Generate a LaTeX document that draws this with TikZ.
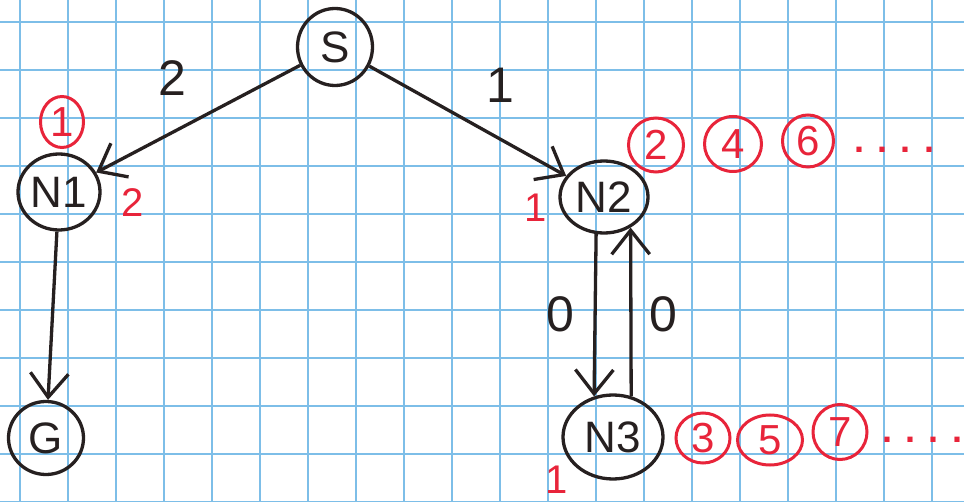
\documentclass[tikz,border=0pt]{standalone}
\usepackage{fontspec}
\setmainfont{Liberation Sans}
\usetikzlibrary{arrows.meta,shapes.geometric}
\definecolor{gridblue}{RGB}{125,190,232}
\definecolor{pen}{RGB}{38,32,32}
\definecolor{redpen}{RGB}{232,36,58}
\tikzset{
  gridline/.style={draw=gridblue, line width=2.6pt},
  state/.style={ellipse, draw=pen, line width=3.3pt, inner sep=0pt,
    text=pen, font=\fontsize{44}{44}\selectfont},
  edge/.style={draw=pen, line width=3.3pt,
    -{Straight Barb[length=24pt,width=38pt]}},
  weight/.style={text=pen, font=\fontsize{50}{50}\selectfont},
  redmark/.style={text=redpen, font=\fontsize{40}{40}\selectfont},
  ring/.style={ellipse, draw=redpen, line width=3pt, inner sep=0pt,
    text=redpen, font=\fontsize{42}{42}\selectfont},
  dots/.style={text=redpen, font=\fontsize{36}{36}\selectfont\bfseries}
}
\begin{document}
\begin{tikzpicture}[x=1pt,y=-1pt]
  \useasboundingbox (0,0) rectangle (964,502);
  \fill[white] (0,0) rectangle (964,502);
  % squared paper
  \foreach \i in {0,...,19}
    \draw[gridline] (20+48*\i,0) -- (20+48*\i,502);
  \foreach \j in {0,...,10}
    \draw[gridline] (0,22+48*\j) -- (964,22+48*\j);

  % graph nodes
  \node[state, minimum width=75pt, minimum height=77pt] (S)  at (335,47)  {S};
  \node[state, minimum width=82pt, minimum height=76pt] (N1) at (59,192)  {N1};
  \node[state, minimum width=75pt, minimum height=73pt] (G)  at (46,438)  {G};
  \node[state, minimum width=88pt, minimum height=72pt] (N2) at (604,197) {N2};
  \node[state, minimum width=100pt, minimum height=84pt] (N3) at (613,437) {N3};

  % edges
  \draw[edge] (S) -- (N1);
  \draw[edge] (S) -- (N2);
  \draw[edge] (N1) -- (G);
  \draw[edge] (N2.258) -- (N3.115);
  \draw[edge] (N3.66) -- (N2.311);

  % edge weights
  \node[weight] (w1) at (172,78)  {2};
  \node[weight] (w2) at (500,85)  {1};
  \node[weight] (w3) at (560,314) {0};
  \node[weight] (w4) at (663,314) {0};

  % red annotations
  \node[ring, minimum width=43pt, minimum height=51pt] (r1) at (62,122) {1};
  \node[redmark] (m1) at (133,203) {2};
  \node[redmark] (m2) at (536,208) {1};
  \node[redmark] (m3) at (557,480) {1};

  \node[ring, minimum width=55pt, minimum height=54pt] (r2) at (656,145) {2};
  \node[ring, minimum width=57pt, minimum height=55pt] (r4) at (733,144) {4};
  \node[ring, minimum width=51pt, minimum height=52pt] (r6) at (808,141) {6};
  \node[dots] (d1) at (894,150) {. . . .};

  \node[ring, minimum width=54pt, minimum height=50pt] (r3) at (703,438) {3};
  \node[ring, minimum width=65pt, minimum height=50pt] (r5) at (770,440) {5};
  \node[ring, minimum width=54pt, minimum height=55pt] (r7) at (840,432) {7};
  \node[dots] (d2) at (922,440) {. . . .};
\end{tikzpicture}
\end{document}
